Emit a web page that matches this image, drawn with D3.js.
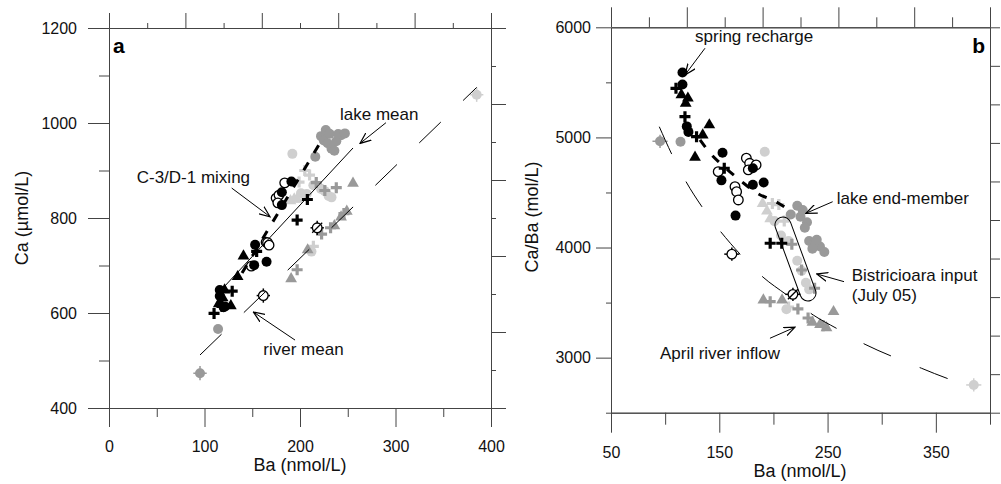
<!DOCTYPE html>
<html>
<head>
<meta charset="utf-8">
<script src="https://cdn.jsdelivr.net/npm/d3@7"></script>
<style>
  body { margin: 0; background: #fff; }
</style>
</head>
<body>
<div id="chart"></div>
<script>
// Ba (nmol/L) and Ca/Ba (mol/L); panel a plots Ca = Ba * Ca/Ba / 1000
const blackCircles = [[116,5590],[116,5480],[120,5100],[121.5,5050],[153,4860],[152,4610],[165,4290],[181,4720],[181,4570],[191,4590]];
const blackTriangles = [[115,5386],[121,5356],[119,5310],[140.8,5113],[134.7,5022],[127.6,4820]];
const blackCrosses = [[110,5446],[118.3,5188],[129,5007],[154.6,4720],[197,4039],[207.7,4039]];
const openCircles = [[149,4689],[164.5,4553],[166,4507],[167.6,4432],[175,4811],[178,4765],[184,4750],[176.8,4705]];
const grayCircles = [[114.2,4960],[216,4300],[222,4380],[227,4340],[225,4280],[231,4230],[229,4180],[233,4060],[238,4040],[243,4010],[236,3990],[240,4070],[247,3960]];
const grayTriangles = [[190.7,3523],[208,3523],[255.5,3417],[236,3320],[243,3300],[249,3270]];
const grayCrosses = [[197,3508],[222.6,3442],[226,3796],[238,3630],[217,4030],[232,3360],[246,3290]];
const lightCircles = [[192,4870],[207,4110],[214,4060],[222,3880],[226,3790],[230,3680],[233,3620],[212,3440],[201,4240]];
const lightTriangles = [[190,4400],[194,4330],[197,4260]];
const lightCrosses = [[199,4400],[205,4390],[210,4240],[214,3460]];
// points drawn with error bars: [Ba, Ca/Ba, kind]
const errPoints = [[95.3,4965,"gray"],[161.6,3940,"open"],[218,3575,"slash"],[385,2752,"light"]];
const errBa = 7, errCa = 15, errRatio = 60;

// mixing lines
const riverMeanA = [[95.3,511.6],[385,1075]];          // Ba, Ca
const lakeMeanA = [[119.4,652.6],[255.5,947.4]];
const mixingA = [[139.3,684],[221,958]];
const riverCurveB = [[94.6,5097],[106,4850],[119.3,4598],[134.3,4366],[151.3,4144],[169.1,3941],[190.4,3731],[212.5,3568],[236.8,3387],[259.9,3257],[284.6,3121],[310.1,3009],[336.9,2903],[363,2803],[378,2760]];
const mixingB = [[132.2,4977],[136.8,4916],[143,4841],[150.7,4768],[170.8,4598],[184.6,4496],[204.3,4405],[218,4314]];
const inputBoxB = [[208.8,4205],[231.9,3587]];

// ticks
const xTicksA = [0,100,200,300,400], xMinorA = [50,150,250,350];
const yTicksA = [400,600,800,1000,1200], yMinorA = [500,700,900,1100];
const xTicksB = [50,150,250,350], xMinorB = [100,200,300,400];
const yTicksB = [3000,4000,5000,6000], yMinorB = [2500,3500,4500,5500];

// annotations: text anchor, arrow start, arrow tip (data units)
const notesA = [
  { text: ["C-3/D-1 mixing"], at: [29,873], from: [128.5,863], to: [168.6,802.7] },
  { text: ["lake mean"], at: [241.9,1006], from: [290,1000.6], to: [262.8,957] },
  { text: ["river mean"], at: [161.6,511.6], from: [194.8,543], to: [151.2,602] }
];
const notesB = [
  { text: ["spring recharge"], at: [127.6,5868], from: [136.8,5810], to: [118.3,5567] },
  { text: ["lake end-member"], at: [258.4,4396], from: [254.7,4416], to: [230,4311] },
  { text: ["Bistricioara input","(July 05)"], at: [272.3,3696], from: [265.2,3690], to: [240,3760] },
  { text: ["April river inflow"], at: [95.2,2985], from: [196.8,3176], to: [219.9,3276] }
];

const FONT = "'Liberation Sans', Arial, Helvetica, sans-serif";
const width = 1001, height = 484;
const svg = d3.select("#chart").append("svg")
    .attr("width", width)
    .attr("height", height);

svg.append("defs").append("marker")
    .attr("id", "arrow")
    .attr("viewBox", "0 0 12 10")
    .attr("refX", 11).attr("refY", 5)
    .attr("markerWidth", 12).attr("markerHeight", 10)
    .attr("markerUnits", "userSpaceOnUse")
    .attr("orient", "auto")
    .append("path")
    .attr("d", "M0,0.5L11,5L0,9.5")
    .attr("fill", "none")
    .attr("stroke", "#000")
    .attr("stroke-width", 1.2);

const panels = [
  {
    letter: "a", letterAnchor: "start", letterX: 113,
    x: d3.scaleLinear().domain([0,400]).range([109,491]),
    y: d3.scaleLinear().domain([400,1200]).range([408,28]),
    val: d => d[0] * d[1] / 1000, err: errCa,
    xTicks: xTicksA, xMinor: xMinorA, yTicks: yTicksA, yMinor: yMinorA,
    tl: { left: [21,10], bottom: [19,9], top: [15,5], right: [15,5] },
    pad: { left: 11, bottom: 14 },
    xTitle: "Ba (nmol/L)", xTitlePos: [300,471],
    yTitle: "Ca (µmol/L)", yTitlePos: [28,218],
    notes: notesA
  },
  {
    letter: "b", letterAnchor: "end", letterX: 985,
    x: d3.scaleLinear().domain([50,400]).range([611,990]),
    y: d3.scaleLinear().domain([2500,6000]).range([412.7,27.3]),
    val: d => d[1], err: errRatio,
    xTicks: xTicksB, xMinor: xMinorB, yTicks: yTicksB, yMinor: yMinorB,
    tl: { left: [15,5], bottom: [20,12], top: [20,10], right: [10,10] },
    pad: { left: 5, bottom: 14 },
    xTitle: "Ba (nmol/L)", xTitlePos: [800,477],
    yTitle: "Ca/Ba (mol/L)", yTitlePos: [538,217],
    notes: notesB
  }
];

function styleAxis(sel) {
    sel.selectAll(".domain, .tick line").attr("stroke", "#444").attr("stroke-width", 1);
    sel.selectAll("text")
        .attr("font-family", FONT)
        .attr("font-size", "16px")
        .attr("fill", "#111");
}

function addAxes(g, p) {
    const [x0, x1] = p.x.range();
    const [y0, y1] = p.y.range();
    const top = d3.scaleLinear().domain([0,10]).range([x0, x1]);
    const right = d3.scaleLinear().domain([0,10]).range([y0, y1]);
    const even = d3.range(0, 11, 2), odd = d3.range(1, 10, 2);

    g.append("g").attr("transform", `translate(0,${y0})`)
        .call(d3.axisBottom(p.x).tickValues(p.xTicks).tickSize(p.tl.bottom[0]).tickSizeOuter(0)
            .tickPadding(p.pad.bottom).tickFormat(d3.format("d")))
        .call(styleAxis);
    g.append("g").attr("transform", `translate(0,${y0})`)
        .call(d3.axisBottom(p.x).tickValues(p.xMinor).tickSize(p.tl.bottom[1]).tickSizeOuter(0).tickFormat(""))
        .call(styleAxis);

    g.append("g").attr("transform", `translate(${x0},0)`)
        .call(d3.axisLeft(p.y).tickValues(p.yTicks).tickSize(p.tl.left[0]).tickSizeOuter(0)
            .tickPadding(p.pad.left).tickFormat(d3.format("d")))
        .call(styleAxis);
    g.append("g").attr("transform", `translate(${x0},0)`)
        .call(d3.axisLeft(p.y).tickValues(p.yMinor).tickSize(p.tl.left[1]).tickSizeOuter(0).tickFormat(""))
        .call(styleAxis);

    g.append("g").attr("transform", `translate(0,${y1})`)
        .call(d3.axisTop(top).tickValues(even).tickSize(p.tl.top[0]).tickSizeOuter(0).tickFormat(""))
        .call(styleAxis);
    g.append("g").attr("transform", `translate(0,${y1})`)
        .call(d3.axisTop(top).tickValues(odd).tickSize(p.tl.top[1]).tickSizeOuter(0).tickFormat(""))
        .call(styleAxis);

    g.append("g").attr("transform", `translate(${x1},0)`)
        .call(d3.axisRight(right).tickValues(even).tickSize(p.tl.right[0]).tickSizeOuter(0).tickFormat(""))
        .call(styleAxis);
    g.append("g").attr("transform", `translate(${x1},0)`)
        .call(d3.axisRight(right).tickValues(odd).tickSize(p.tl.right[1]).tickSizeOuter(0).tickFormat(""))
        .call(styleAxis);

    g.append("text")
        .attr("x", p.xTitlePos[0]).attr("y", p.xTitlePos[1])
        .attr("text-anchor", "middle")
        .attr("font-family", FONT).attr("font-size", "18px").attr("fill", "#111")
        .text(p.xTitle);
    g.append("text")
        .attr("transform", `translate(${p.yTitlePos[0]},${p.yTitlePos[1]}) rotate(-90)`)
        .attr("text-anchor", "middle")
        .attr("font-family", FONT).attr("font-size", "18px").attr("fill", "#111")
        .text(p.yTitle);
    g.append("text")
        .attr("x", p.letterX).attr("y", 53)
        .attr("text-anchor", p.letterAnchor)
        .attr("font-family", FONT).attr("font-size", "21px").attr("font-weight", "bold")
        .text(p.letter);
}

const groups = [
  { data: lightCircles, shape: "circle", color: "#cfcfcf" },
  { data: lightTriangles, shape: "triangle", color: "#cfcfcf" },
  { data: lightCrosses, shape: "cross", color: "#cfcfcf" },
  { data: grayCircles, shape: "circle", color: "#999" },
  { data: grayTriangles, shape: "triangle", color: "#999" },
  { data: grayCrosses, shape: "cross", color: "#999" },
  { data: openCircles, shape: "open", color: "#000" },
  { data: blackCircles, shape: "circle", color: "#000" },
  { data: blackTriangles, shape: "triangle", color: "#000" },
  { data: blackCrosses, shape: "cross", color: "#000" }
];
const triangle = d3.symbol(d3.symbolTriangle, 60)();

function addMarks(sel, shape, color) {
    if (shape === "circle") {
        sel.append("circle").attr("r", 5).attr("fill", color);
    } else if (shape === "open" || shape === "slash") {
        sel.append("circle").attr("r", 4.8).attr("fill", "#fff").attr("stroke", "#000").attr("stroke-width", 1.3);
        if (shape === "slash") {
            sel.append("path").attr("d", "M-5,5L5,-5").attr("stroke", "#000").attr("stroke-width", 1.3);
        }
    } else if (shape === "triangle") {
        sel.append("path").attr("d", triangle).attr("fill", color);
    } else {
        sel.append("path").attr("d", "M-5.5,0H5.5M0,-5.5V5.5")
            .attr("stroke", color).attr("stroke-width", 3.2).attr("fill", "none");
    }
}

function addPoints(g, p) {
    groups.forEach(grp => {
        g.append("g").selectAll("g")
            .data(grp.data)
            .join("g")
            .attr("transform", d => `translate(${p.x(d[0])},${p.y(p.val(d))})`)
            .each(function() { addMarks(d3.select(this), grp.shape, grp.color); });
    });

    const errColor = { gray: "#999", open: "#000", slash: "#000", light: "#cfcfcf" };
    const e = g.append("g").selectAll("g")
        .data(errPoints)
        .join("g");
    e.append("line")
        .attr("x1", d => p.x(d[0] - errBa)).attr("x2", d => p.x(d[0] + errBa))
        .attr("y1", d => p.y(p.val(d))).attr("y2", d => p.y(p.val(d)))
        .attr("stroke", d => errColor[d[2]]).attr("stroke-width", 1.5);
    e.append("line")
        .attr("x1", d => p.x(d[0])).attr("x2", d => p.x(d[0]))
        .attr("y1", d => p.y(p.val(d)) - (p.y(0) - p.y(p.err))).attr("y2", d => p.y(p.val(d)) + (p.y(0) - p.y(p.err)))
        .attr("stroke", d => errColor[d[2]]).attr("stroke-width", 1.5);
    e.append("g")
        .attr("transform", d => `translate(${p.x(d[0])},${p.y(p.val(d))})`)
        .each(function(d) {
            const kind = d[2];
            addMarks(d3.select(this), kind === "gray" || kind === "light" ? "circle" : kind, errColor[kind]);
        });
}

function addNotes(g, p) {
    p.notes.forEach(n => {
        const t = g.append("text")
            .attr("x", p.x(n.at[0])).attr("y", p.y(n.at[1]))
            .attr("font-family", FONT).attr("font-size", "17px").attr("fill", "#111");
        n.text.forEach((s, i) => {
            t.append("tspan").attr("x", p.x(n.at[0])).attr("dy", i === 0 ? 0 : 20).text(s);
        });
        g.append("line")
            .attr("x1", p.x(n.from[0])).attr("y1", p.y(n.from[1]))
            .attr("x2", p.x(n.to[0])).attr("y2", p.y(n.to[1]))
            .attr("stroke", "#000").attr("stroke-width", 1)
            .attr("marker-end", "url(#arrow)");
    });
}

function path(g, p, data, dash, w, curve) {
    const line = d3.line()
        .x(d => p.x(d[0]))
        .y(d => p.y(d[1]))
        .curve(curve || d3.curveLinear);
    g.append("path")
        .attr("d", line(data))
        .attr("fill", "none")
        .attr("stroke", "#000")
        .attr("stroke-width", w)
        .attr("stroke-dasharray", dash);
}

// panel a
{
    const p = panels[0];
    const g = svg.append("g");
    addAxes(g, p);
    addPoints(g, p);
    path(g, p, riverMeanA, "30,31", 1);
    path(g, p, lakeMeanA, null, 1);
    path(g, p, mixingA, "9,11", 3);
    addNotes(g, p);
}

// panel b
{
    const p = panels[1];
    const g = svg.append("g");
    addAxes(g, p);
    addPoints(g, p);
    path(g, p, riverCurveB, "30,31", 1, d3.curveMonotoneX);
    path(g, p, mixingB, "9,11", 3, d3.curveMonotoneX);

    const a = [p.x(inputBoxB[0][0]), p.y(inputBoxB[0][1])];
    const b = [p.x(inputBoxB[1][0]), p.y(inputBoxB[1][1])];
    const len = Math.hypot(b[0] - a[0], b[1] - a[1]);
    const ang = Math.atan2(-(b[0] - a[0]), b[1] - a[1]) * 180 / Math.PI;
    g.append("rect")
        .attr("x", -8).attr("y", -len / 2 - 8)
        .attr("width", 16).attr("height", len + 16)
        .attr("rx", 8)
        .attr("fill", "none").attr("stroke", "#000").attr("stroke-width", 1)
        .attr("transform", `translate(${(a[0] + b[0]) / 2},${(a[1] + b[1]) / 2}) rotate(${ang})`);
    addNotes(g, p);
}
</script>
</body>
</html>
